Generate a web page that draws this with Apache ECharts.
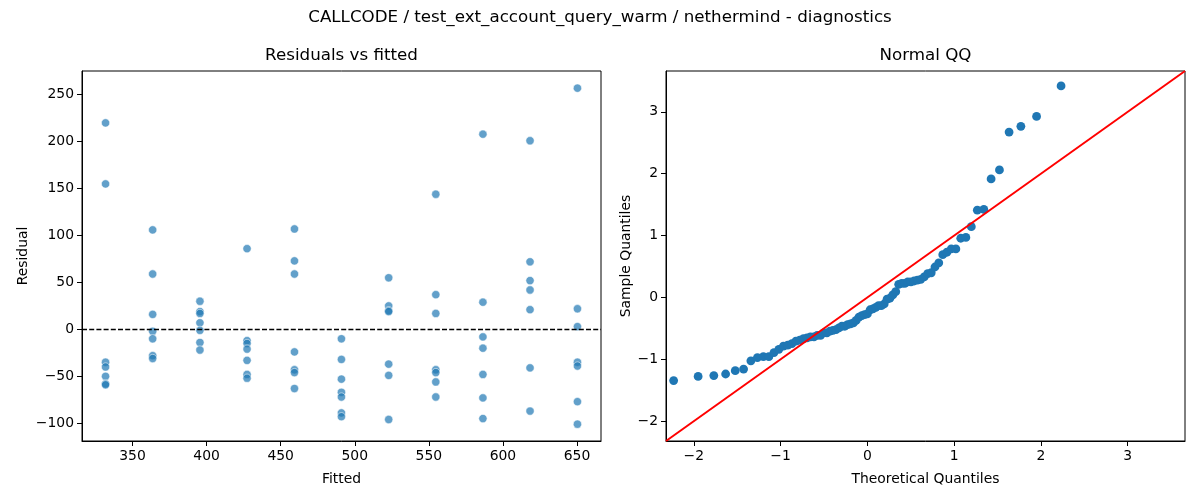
<!DOCTYPE html>
<html>
<head>
<meta charset="utf-8">
<script src="https://cdn.jsdelivr.net/npm/echarts@6/dist/echarts.min.js"></script>
<style>
  html, body { margin: 0; padding: 0; background: #fff; }
  #chart { width: 1200px; height: 500px; }
</style>
</head>
<body>
<div id="chart"></div>
<script>
// Residuals vs fitted: one fitted value per group, residuals
var fittedLevels = [331.8, 363.6, 395.5, 427.3, 459.3, 491.0, 522.9, 554.7, 586.5, 618.3, 650.3];
var residualGroups = [
  [220, 155, -35, -40, -50, -58, -59],
  [106, 59, 16, -2, -10, -28, -31],
  [30, 19, 17, 7, -1, -14, -22],
  [86, -12, -15, -21, -33, -48, -52],
  [107, 73, 59, -24, -43, -46, -63],
  [-10, -32, -53, -67, -72, -89, -93],
  [55, 25, 20, 19, -37, -49, -96],
  [144, 37, 17, -43, -46, -56, -72],
  [208, 29, -8, -20, -48, -73, -95],
  [201, 72, 52, 42, 21, -41, -87],
  [257, 22, 3, -35, -39, -77, -101]
];
var fittedTicks = [350, 400, 450, 500, 550, 600, 650];
var residualTicks = [-100, -50, 0, 50, 100, 150, 200, 250];

// Normal QQ points
var qqTheoretical = [
  -2.232, -1.950, -1.769, -1.633, -1.522, -1.426, -1.342, -1.267, -1.198, -1.135,
  -1.076, -1.020, -0.967, -0.917, -0.869, -0.823, -0.779, -0.736, -0.695, -0.655,
  -0.615, -0.577, -0.539, -0.502, -0.466, -0.431, -0.396, -0.361, -0.327, -0.293,
  -0.260, -0.227, -0.194, -0.161, -0.129, -0.097, -0.064, -0.032, 0,
  0.032, 0.064, 0.097, 0.129, 0.161, 0.194, 0.227, 0.260, 0.293, 0.327,
  0.361, 0.396, 0.431, 0.466, 0.502, 0.539, 0.577, 0.615, 0.655, 0.695,
  0.736, 0.779, 0.823, 0.869, 0.917, 0.967, 1.020, 1.076, 1.135, 1.198,
  1.267, 1.342, 1.426, 1.522, 1.633, 1.769, 1.950, 2.232
];
var qqSample = [
  -1.343, -1.277, -1.263, -1.237, -1.184, -1.157, -1.024, -0.971, -0.957, -0.957,
  -0.891, -0.838, -0.785, -0.771, -0.745, -0.705, -0.691, -0.665, -0.652, -0.638,
  -0.638, -0.612, -0.612, -0.572, -0.572, -0.545, -0.532, -0.519, -0.492, -0.465,
  -0.465, -0.439, -0.426, -0.412, -0.372, -0.319, -0.293, -0.279, -0.266,
  -0.199, -0.186, -0.160, -0.133, -0.133, -0.106, -0.027, -0.013, 0.040, 0.093,
  0.213, 0.226, 0.226, 0.253, 0.253, 0.266, 0.279, 0.293, 0.332, 0.386,
  0.399, 0.492, 0.559, 0.691, 0.731, 0.785, 0.785, 0.957, 0.971, 1.144,
  1.410, 1.423, 1.915, 2.061, 2.673, 2.766, 2.926, 3.418
];
var qqLine = [[-2.32, -2.32], [3.66, 3.66]];
var qqTicks = [-2, -1, 0, 1, 2, 3];

var FONT = "DejaVu Sans";

function minusFmt(v) {
  return String(v).replace("-", "\u2212");
}

function boxAxis(extra) {
  var base = {
    type: "value",
    scale: true,
    splitLine: { show: false },
    axisLine: { show: true, onZero: false, lineStyle: { color: "#000", width: 1 } },
    axisTick: { show: true, inside: false, length: 5, lineStyle: { color: "#000", width: 1 } },
    axisLabel: { color: "#000", fontFamily: FONT, fontSize: 13.9, margin: 8, formatter: minusFmt },
    nameLocation: "middle",
    nameTextStyle: { color: "#000", fontFamily: FONT, fontSize: 13.9 }
  };
  for (var k in extra) {
    if (k === "axisLabel" || k === "axisTick") {
      base[k] = Object.assign({}, base[k], extra[k]);
    } else {
      base[k] = extra[k];
    }
  }
  return base;
}

var residualPoints = [];
fittedLevels.forEach(function (f, i) {
  residualGroups[i].forEach(function (r) {
    residualPoints.push([f, r]);
  });
});

var qqPoints = qqTheoretical.map(function (x, i) {
  return [x, qqSample[i]];
});

var chart = echarts.init(document.getElementById("chart"), null, { renderer: "canvas" });

chart.setOption({
  animation: false,
  backgroundColor: "#fff",
  graphic: [
    { type: "text", x: 600, y: 18, style: { text: "CALLCODE / test_ext_account_query_warm / nethermind - diagnostics",
      fill: "#000", font: "16.7px 'DejaVu Sans'", textAlign: "center", textVerticalAlign: "middle" } },
    { type: "text", x: 341.5, y: 56, style: { text: "Residuals vs fitted",
      fill: "#000", font: "16.7px 'DejaVu Sans'", textAlign: "center", textVerticalAlign: "middle" } },
    { type: "text", x: 925.5, y: 56, style: { text: "Normal QQ",
      fill: "#000", font: "16.7px 'DejaVu Sans'", textAlign: "center", textVerticalAlign: "middle" } }
  ],
  grid: [
    { left: 82, top: 71, width: 519, height: 370, show: true, borderColor: "#000", borderWidth: 1, backgroundColor: "transparent" },
    { left: 666, top: 71, width: 519, height: 370, show: true, borderColor: "#000", borderWidth: 1, backgroundColor: "transparent" }
  ],
  xAxis: [
    boxAxis({
      gridIndex: 0, min: 315.9, max: 666.2, name: "Fitted", nameGap: 31,
      axisLabel: { customValues: fittedTicks },
      axisTick: { customValues: fittedTicks }
    }),
    boxAxis({
      gridIndex: 1, min: -2.32, max: 3.66, name: "Theoretical Quantiles", nameGap: 31,
      axisLabel: { customValues: qqTicks },
      axisTick: { customValues: qqTicks }
    })
  ],
  yAxis: [
    boxAxis({
      gridIndex: 0, min: -118.9, max: 275.3, name: "Residual", nameGap: 52,
      axisLabel: { customValues: residualTicks },
      axisTick: { customValues: residualTicks }
    }),
    boxAxis({
      gridIndex: 1, min: -2.32, max: 3.66, name: "Sample Quantiles", nameGap: 30,
      axisLabel: { customValues: qqTicks },
      axisTick: { customValues: qqTicks }
    })
  ],
  series: [
    {
      type: "scatter",
      xAxisIndex: 0,
      yAxisIndex: 0,
      data: residualPoints,
      symbolSize: 8.3,
      itemStyle: { color: "#1f77b4", opacity: 0.7, borderColor: "#fff", borderWidth: 0.75 },
      markLine: {
        silent: true,
        symbol: ["none", "none"],
        label: { show: false },
        lineStyle: { color: "#000", type: [5, 2.2], width: 1.4 },
        data: [{ yAxis: 0 }]
      }
    },
    {
      type: "scatter",
      xAxisIndex: 1,
      yAxisIndex: 1,
      data: qqPoints,
      symbolSize: 8.8,
      itemStyle: { color: "#1f77b4", opacity: 1 }
    },
    {
      type: "line",
      xAxisIndex: 1,
      yAxisIndex: 1,
      data: qqLine,
      showSymbol: false,
      symbol: "none",
      z: 5,
      lineStyle: { color: "#ff0000", width: 2 }
    }
  ]
});
</script>
</body>
</html>
